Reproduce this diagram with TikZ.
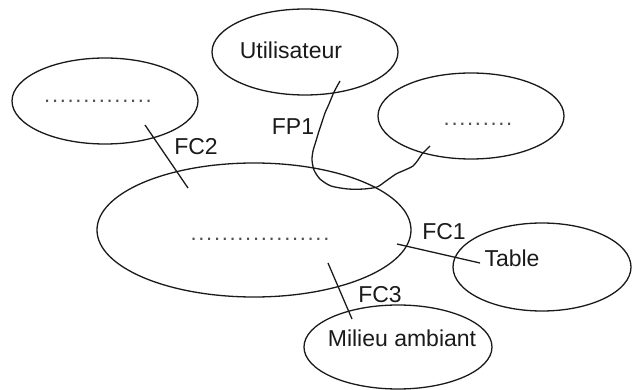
\documentclass[tikz,border=0pt]{standalone}
\usepackage{fontspec}
\setmainfont{Liberation Sans}
\usetikzlibrary{shapes.geometric}
\definecolor{ink}{HTML}{1A1A1A}
\definecolor{dotgray}{HTML}{505050}
\newcommand\dotrow[1]{\foreach \k in {1,...,#1}{\makebox[7.8pt]{.}}}
\begin{document}
\begin{tikzpicture}[x=1pt,y=-1pt,
  blob/.style={draw=ink,line width=1.3pt,ellipse,inner sep=0pt},
  lbl/.style={text=ink,font=\fontsize{23}{27}\selectfont,anchor=base,inner sep=0pt},
  dots/.style={text=dotgray,font=\fontsize{22}{26}\selectfont,anchor=base,inner sep=0pt},
  link/.style={draw=ink,line width=1.3pt}]
\useasboundingbox (0,0) rectangle (632,390);

% the six elements of the environment diagram
\node[blob,minimum width=186pt,minimum height=86pt] (user) at (305,52) {};
\node[blob,minimum width=186pt,minimum height=86pt] (left) at (105,101) {};
\node[blob,minimum width=186pt,minimum height=86pt] (right) at (471,116) {};
\node[blob,minimum width=314pt,minimum height=134pt] (core) at (254,230) {};
\node[blob,minimum width=178pt,minimum height=88pt] (table) at (542,267) {};
\node[blob,minimum width=188pt,minimum height=84pt] (milieu) at (398,347) {};

% texts inside the ellipses
\node[lbl] (tuser) at (291,59) {Utilisateur};
\node[lbl] (ttable) at (512,266) {Table};
\node[lbl] (tmilieu) at (402,346) {Milieu ambiant};
\node[dots] (tleft) at (98,103) {\dotrow{14}};
\node[dots] (tcore) at (260,241) {\dotrow{18}};
\node[dots] (tright) at (478,126) {\dotrow{9}};

% function labels
\node[lbl] (fp1) at (293,135) {FP1};
\node[lbl] (fc2) at (196,155) {FC2};
\node[lbl] (fc1) at (444,240) {FC1};
\node[lbl] (fc3) at (380,302) {FC3};

% end points of the connectors
\coordinate (fc2a) at (145,125);
\coordinate (fc2b) at (188,188);
\coordinate (fc1a) at (397,244);
\coordinate (fc1b) at (480,263);
\coordinate (fc3a) at (328,263);
\coordinate (fc3b) at (352,319);
\coordinate (fp1a) at (340,81);
\coordinate (fp1b) at (430,146);

\draw[link] (fc2a) -- (fc2b);
\draw[link] (fc1a) -- (fc1b);
\draw[link] (fc3a) -- (fc3b);

% hand-drawn principal function line
\draw[link,line join=round] plot[smooth,tension=0.45] coordinates {
  (fp1a) (334,92) (329,104) (325,113) (322,122) (319,131) (316,141)
  (313,151) (312,160) (314,170) (320,179) (331,186) (348,189)
  (364,189) (377,187) (386,181) (396,174) (405,170) (413,166)
  (418,160) (422,154) (426,150) (fp1b)};
\end{tikzpicture}
\end{document}
